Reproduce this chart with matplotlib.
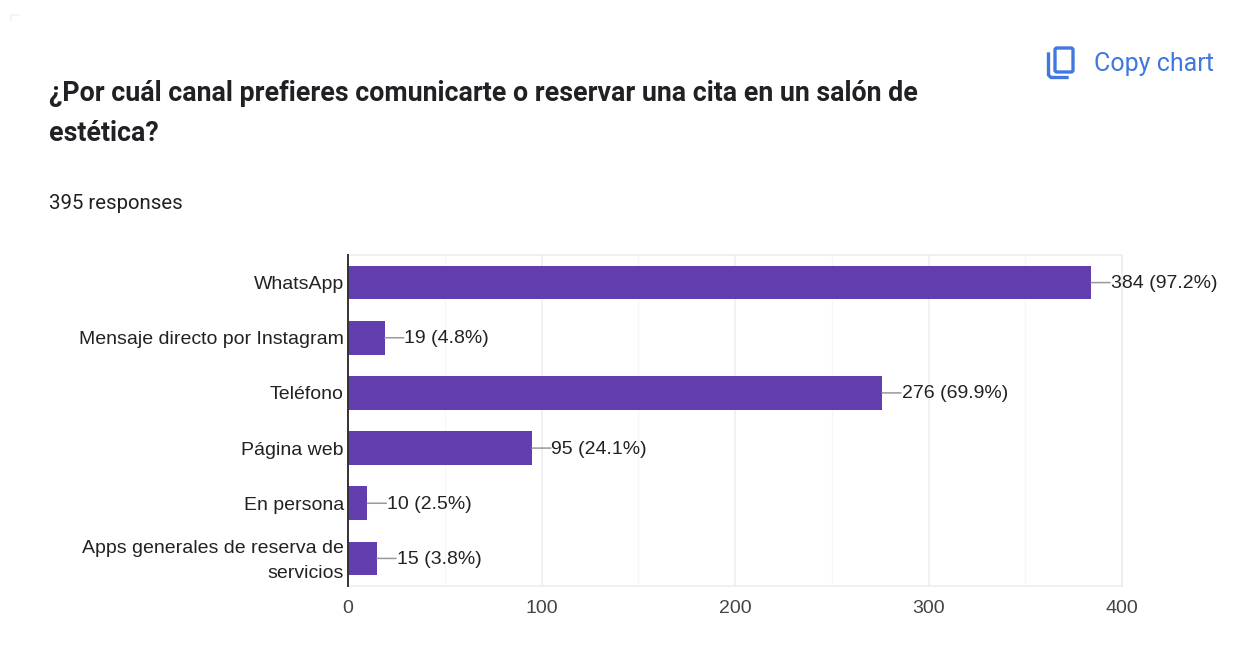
import matplotlib
matplotlib.use("Agg")
import matplotlib.pyplot as plt
from matplotlib.patches import FancyBboxPatch
from matplotlib.lines import Line2D

# ------------------ DATA ------------------

canales = [
    "WhatsApp",
    "Mensaje directo por Instagram",
    "Teléfono",
    "Página web",
    "En persona",
    "Apps generales de reserva de\nservicios",
]
respuestas = [384, 19, 276, 95, 10, 15]
porcentajes = [97.2, 4.8, 69.9, 24.1, 2.5, 3.8]
major_ticks = [0, 100, 200, 300, 400]
minor_ticks = [50, 150, 250, 350]

TITLE = "¿Por cuál canal prefieres comunicarte o reservar una cita en un salón de\nestética?"
SUBTITLE = "395 responses"

W, H = 1244, 671
BAR_COLOR = "#613DAE"
TEXT_COLOR = "#222222"
BLUE = "#4078E0"

# ------------------ CHART ------------------

fig = plt.figure(figsize=(W / 100, H / 100), dpi=100, facecolor="white")

# full-figure layer in pixel coordinates for header text and icon
bg = fig.add_axes([0, 0, 1, 1])
bg.set_xlim(0, W)
bg.set_ylim(H, 0)
bg.axis("off")

title_lines = TITLE.split("\n")
bg.text(49, 93.5, title_lines[0], family="Roboto", weight="bold", fontsize=19.3,
        color="#202124", va="center", ha="left")
bg.text(49, 133.5, title_lines[1], family="Roboto", weight="bold", fontsize=19.3,
        color="#202124", va="center", ha="left")
bg.text(49, 203.5, SUBTITLE, family="Roboto", fontsize=14.7, color="#202124",
        va="center", ha="left")
bg.text(1094, 64, "Copy chart", family="Roboto", fontsize=18,
        color=BLUE, va="center", ha="left")

# copy icon
bg.add_patch(FancyBboxPatch((1055, 48), 18, 24, boxstyle="round,pad=0,rounding_size=2",
                            fill=False, ec=BLUE, lw=2.4))
bg.add_line(Line2D([1048.5, 1048.5, 1051, 1067], [54, 75, 77.5, 77.5], color=BLUE, lw=2.4,
                   solid_joinstyle="round"))

# faint corner mark top left
bg.add_line(Line2D([11, 11, 19], [21, 15, 15], color="#F3F3F6", lw=1.2))

ax = fig.add_axes([348 / W, 1 - 586 / H, (1122 - 348) / W, (586 - 255) / H])
y_pos = list(range(len(canales)))
ax.barh(y_pos, respuestas, height=0.61, color=BAR_COLOR, zorder=3)

ax.set_xlim(0, 400)
ax.set_ylim(len(canales) - 0.5, -0.5)
ax.set_xticks(major_ticks)
ax.set_xticks(minor_ticks, minor=True)
ax.set_yticks(y_pos)

# the two-line label is placed on its own, tick labels can't be nudged
ax.set_yticklabels(canales[:-1] + [""], family="Liberation Sans", fontsize=14,
                   color=TEXT_COLOR, ha="right")
ax.annotate(canales[-1], xy=(0, y_pos[-1]), xytext=(-4, -2.5), textcoords="offset pixels",
            family="Liberation Sans", fontsize=14, color=TEXT_COLOR, linespacing=1.62,
            va="center", ha="right", annotation_clip=False)

ax.tick_params(axis="y", length=0, pad=3)
ax.tick_params(axis="x", which="both", length=0, pad=10)
for lab in ax.get_xticklabels():
    lab.set_family("Liberation Sans")
    lab.set_fontsize(14)
    lab.set_color("#444444")

ax.grid(True, axis="x", which="major", color="#EEEEEE", lw=1.1, zorder=0)
ax.grid(True, axis="x", which="minor", color="#F6F6F6", lw=1.0, zorder=0)

for side in ["top", "right", "bottom"]:
    ax.spines[side].set_color("#EEEEEE")
    ax.spines[side].set_linewidth(1.2)
ax.spines["left"].set_color("#333333")
ax.spines["left"].set_linewidth(1.4)
ax.spines["left"].set_zorder(5)

# value labels with a short leader line
for y, n, pct in zip(y_pos, respuestas, porcentajes):
    ax.annotate("", xy=(n, y), xytext=(19, 0), textcoords="offset pixels",
                annotation_clip=False, zorder=6,
                arrowprops=dict(arrowstyle="-", color="#999999", lw=1.1,
                                shrinkA=0, shrinkB=0))
    ax.annotate(f"{n} ({pct}%)", xy=(n, y), xytext=(19.5, -1), textcoords="offset pixels",
                family="Liberation Sans", fontsize=14, color=TEXT_COLOR,
                va="center", ha="left", annotation_clip=False, zorder=6)

fig.savefig("out.png", dpi=100, facecolor="white")
plt.close(fig)
